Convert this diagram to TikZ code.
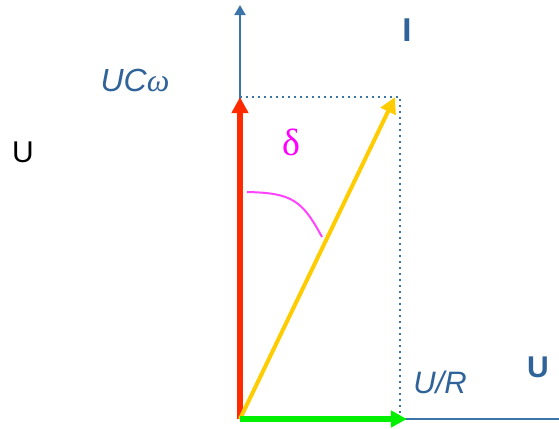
\documentclass[tikz,border=0pt]{standalone}
\usepackage{fontspec}
\setmainfont{Liberation Sans}
\newfontfamily\serifgreek{Liberation Serif}
\usepackage{xcolor}
\usetikzlibrary{arrows.meta}
\definecolor{axisblue}{HTML}{3B74A6}
\definecolor{labelblue}{HTML}{2F6399}
\definecolor{vecred}{HTML}{FF2A00}
\definecolor{vecyellow}{HTML}{FFCC00}
\definecolor{vecgreen}{HTML}{00F000}
\definecolor{anglepink}{HTML}{FF44FF}
\definecolor{deltapink}{HTML}{FF00FF}

\begin{document}
\begin{tikzpicture}[
  x=0.5pt, y=-0.5pt,
  axis/.style={draw=axisblue, line width=1pt},
  guide/.style={draw=axisblue, line width=1.3pt, dash pattern=on 1.1pt off 1.9pt},
  vec/.style={line width=#1, -{Triangle[width=8pt, length=8pt]}},
  lbl/.style={text=labelblue, inner sep=0pt}
]
  \useasboundingbox (0,0) rectangle (559,429);
  % points of the diagram
  \coordinate (O) at (240,419);
  \coordinate (ytop) at (240,5);
  \coordinate (xend) at (559,419);
  \coordinate (C) at (240,97);
  \coordinate (corner) at (400,97);
  \coordinate (foot) at (400,416);
  \coordinate (Itip) at (395,97);
  \coordinate (R) at (407,419);
  % axes
  \draw[axis, -{Triangle[width=5.5pt, length=5pt]}] (O) -- (ytop);
  \draw[axis] (O) -- (xend);
  \draw[guide] (C) -- (corner) -- (foot);
  % vectors
  \draw[vec=3pt, draw=vecred, fill=vecred] (O) -- (C);
  \draw[vec=2pt, draw=vecyellow, fill=vecyellow] (O) -- (Itip);
  \draw[vec=2.6pt, draw=vecgreen, fill=vecgreen] (O) -- (R);
  % angle mark
  \coordinate (d1) at (247,192);
  \coordinate (d2) at (322,237);
  \draw[anglepink, line width=1pt] (d1) .. controls (292,193) and (302,200) .. (d2);
  % labels
  \node[lbl, font=\bfseries\fontsize{16.5}{18}\selectfont] (lI) at (407,30) {I};
  \node[lbl, font=\itshape\fontsize{16}{18}\selectfont] (lUC) at (135,80) {UC{\serifgreek ω}};
  \node[inner sep=0pt, font=\fontsize{15}{17}\selectfont] (lU) at (23,152) {U};
  \node[text=deltapink, inner sep=0pt, font=\serifgreek\fontsize{19}{21}\selectfont] (ld) at (291,142) {δ};
  \node[lbl, font=\itshape\fontsize{15.5}{18}\selectfont] (lUR) at (440,382) {U/R};
  \node[lbl, font=\bfseries\fontsize{15}{17}\selectfont] (lUx) at (538,367) {U};
\end{tikzpicture}
\end{document}
